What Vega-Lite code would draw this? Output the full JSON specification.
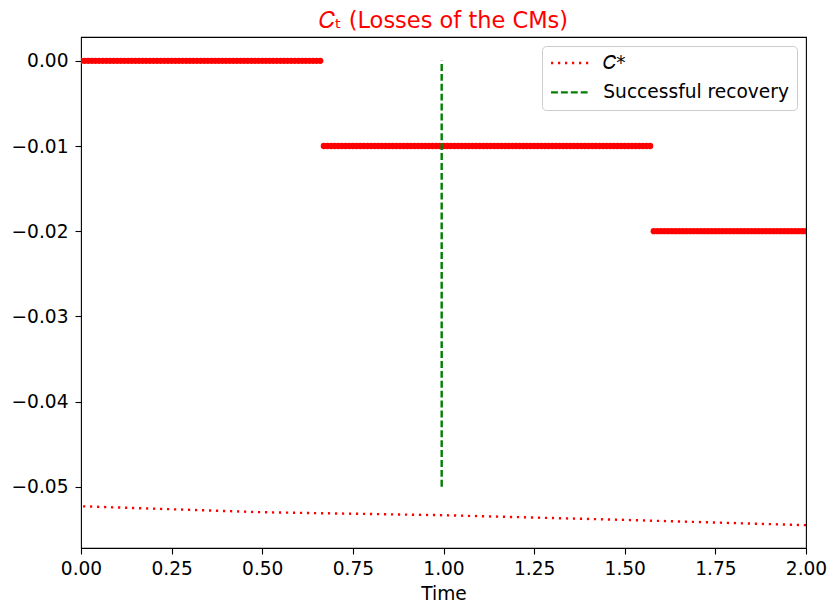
{
  "$schema": "https://vega.github.io/schema/vega-lite/v6.json",
  "width": 725,
  "height": 511,
  "autosize": {"type": "none"},
  "padding": {"left": 81, "top": 37, "right": 23, "bottom": 58},
  "config": {
    "font": "DejaVu Sans",
    "view": {"stroke": "black", "strokeWidth": 1.1},
    "axis": {"labelFontSize": 18.6, "labelColor": "black", "tickColor": "black", "tickSize": 6, "tickWidth": 1.1, "domain": false, "grid": false, "titleFontSize": 18.6, "titleFontWeight": "normal", "titleColor": "black", "labelOverlap": false, "labelFlush": false}
  },
  "title": {"text": "𝐶ₜ (Losses of the CMs)", "color": "#ff0000", "fontSize": 22.5, "fontWeight": "normal", "font": "DejaVu Sans", "anchor": "middle", "offset": 5},
  "datasets": {
    "cm": [
      {"t":0,"c":0},{"t":0.01,"c":0},{"t":0.02,"c":0},{"t":0.03,"c":0},{"t":0.04,"c":0},{"t":0.05,"c":0},{"t":0.06,"c":0},{"t":0.07,"c":0},{"t":0.08,"c":0},{"t":0.09,"c":0},
      {"t":0.1,"c":0},{"t":0.11,"c":0},{"t":0.12,"c":0},{"t":0.13,"c":0},{"t":0.14,"c":0},{"t":0.15,"c":0},{"t":0.16,"c":0},{"t":0.17,"c":0},{"t":0.18,"c":0},{"t":0.19,"c":0},
      {"t":0.2,"c":0},{"t":0.21,"c":0},{"t":0.22,"c":0},{"t":0.23,"c":0},{"t":0.24,"c":0},{"t":0.25,"c":0},{"t":0.26,"c":0},{"t":0.27,"c":0},{"t":0.28,"c":0},{"t":0.29,"c":0},
      {"t":0.3,"c":0},{"t":0.31,"c":0},{"t":0.32,"c":0},{"t":0.33,"c":0},{"t":0.34,"c":0},{"t":0.35,"c":0},{"t":0.36,"c":0},{"t":0.37,"c":0},{"t":0.38,"c":0},{"t":0.39,"c":0},
      {"t":0.4,"c":0},{"t":0.41,"c":0},{"t":0.42,"c":0},{"t":0.43,"c":0},{"t":0.44,"c":0},{"t":0.45,"c":0},{"t":0.46,"c":0},{"t":0.47,"c":0},{"t":0.48,"c":0},{"t":0.49,"c":0},
      {"t":0.5,"c":0},{"t":0.51,"c":0},{"t":0.52,"c":0},{"t":0.53,"c":0},{"t":0.54,"c":0},{"t":0.55,"c":0},{"t":0.56,"c":0},{"t":0.57,"c":0},{"t":0.58,"c":0},{"t":0.59,"c":0},
      {"t":0.6,"c":0},{"t":0.61,"c":0},{"t":0.62,"c":0},{"t":0.63,"c":0},{"t":0.64,"c":0},{"t":0.65,"c":0},{"t":0.66,"c":0},
      {"t":0.67,"c":-0.01},{"t":0.68,"c":-0.01},{"t":0.69,"c":-0.01},
      {"t":0.7,"c":-0.01},{"t":0.71,"c":-0.01},{"t":0.72,"c":-0.01},{"t":0.73,"c":-0.01},{"t":0.74,"c":-0.01},{"t":0.75,"c":-0.01},{"t":0.76,"c":-0.01},{"t":0.77,"c":-0.01},{"t":0.78,"c":-0.01},{"t":0.79,"c":-0.01},
      {"t":0.8,"c":-0.01},{"t":0.81,"c":-0.01},{"t":0.82,"c":-0.01},{"t":0.83,"c":-0.01},{"t":0.84,"c":-0.01},{"t":0.85,"c":-0.01},{"t":0.86,"c":-0.01},{"t":0.87,"c":-0.01},{"t":0.88,"c":-0.01},{"t":0.89,"c":-0.01},
      {"t":0.9,"c":-0.01},{"t":0.91,"c":-0.01},{"t":0.92,"c":-0.01},{"t":0.93,"c":-0.01},{"t":0.94,"c":-0.01},{"t":0.95,"c":-0.01},{"t":0.96,"c":-0.01},{"t":0.97,"c":-0.01},{"t":0.98,"c":-0.01},{"t":0.99,"c":-0.01},
      {"t":1.0,"c":-0.01},{"t":1.01,"c":-0.01},{"t":1.02,"c":-0.01},{"t":1.03,"c":-0.01},{"t":1.04,"c":-0.01},{"t":1.05,"c":-0.01},{"t":1.06,"c":-0.01},{"t":1.07,"c":-0.01},{"t":1.08,"c":-0.01},{"t":1.09,"c":-0.01},
      {"t":1.1,"c":-0.01},{"t":1.11,"c":-0.01},{"t":1.12,"c":-0.01},{"t":1.13,"c":-0.01},{"t":1.14,"c":-0.01},{"t":1.15,"c":-0.01},{"t":1.16,"c":-0.01},{"t":1.17,"c":-0.01},{"t":1.18,"c":-0.01},{"t":1.19,"c":-0.01},
      {"t":1.2,"c":-0.01},{"t":1.21,"c":-0.01},{"t":1.22,"c":-0.01},{"t":1.23,"c":-0.01},{"t":1.24,"c":-0.01},{"t":1.25,"c":-0.01},{"t":1.26,"c":-0.01},{"t":1.27,"c":-0.01},{"t":1.28,"c":-0.01},{"t":1.29,"c":-0.01},
      {"t":1.3,"c":-0.01},{"t":1.31,"c":-0.01},{"t":1.32,"c":-0.01},{"t":1.33,"c":-0.01},{"t":1.34,"c":-0.01},{"t":1.35,"c":-0.01},{"t":1.36,"c":-0.01},{"t":1.37,"c":-0.01},{"t":1.38,"c":-0.01},{"t":1.39,"c":-0.01},
      {"t":1.4,"c":-0.01},{"t":1.41,"c":-0.01},{"t":1.42,"c":-0.01},{"t":1.43,"c":-0.01},{"t":1.44,"c":-0.01},{"t":1.45,"c":-0.01},{"t":1.46,"c":-0.01},{"t":1.47,"c":-0.01},{"t":1.48,"c":-0.01},{"t":1.49,"c":-0.01},
      {"t":1.5,"c":-0.01},{"t":1.51,"c":-0.01},{"t":1.52,"c":-0.01},{"t":1.53,"c":-0.01},{"t":1.54,"c":-0.01},{"t":1.55,"c":-0.01},{"t":1.56,"c":-0.01},{"t":1.57,"c":-0.01},
      {"t":1.58,"c":-0.02},{"t":1.59,"c":-0.02},
      {"t":1.6,"c":-0.02},{"t":1.61,"c":-0.02},{"t":1.62,"c":-0.02},{"t":1.63,"c":-0.02},{"t":1.64,"c":-0.02},{"t":1.65,"c":-0.02},{"t":1.66,"c":-0.02},{"t":1.67,"c":-0.02},{"t":1.68,"c":-0.02},{"t":1.69,"c":-0.02},
      {"t":1.7,"c":-0.02},{"t":1.71,"c":-0.02},{"t":1.72,"c":-0.02},{"t":1.73,"c":-0.02},{"t":1.74,"c":-0.02},{"t":1.75,"c":-0.02},{"t":1.76,"c":-0.02},{"t":1.77,"c":-0.02},{"t":1.78,"c":-0.02},{"t":1.79,"c":-0.02},
      {"t":1.8,"c":-0.02},{"t":1.81,"c":-0.02},{"t":1.82,"c":-0.02},{"t":1.83,"c":-0.02},{"t":1.84,"c":-0.02},{"t":1.85,"c":-0.02},{"t":1.86,"c":-0.02},{"t":1.87,"c":-0.02},{"t":1.88,"c":-0.02},{"t":1.89,"c":-0.02},
      {"t":1.9,"c":-0.02},{"t":1.91,"c":-0.02},{"t":1.92,"c":-0.02},{"t":1.93,"c":-0.02},{"t":1.94,"c":-0.02},{"t":1.95,"c":-0.02},{"t":1.96,"c":-0.02},{"t":1.97,"c":-0.02},{"t":1.98,"c":-0.02},{"t":1.99,"c":-0.02},
      {"t":2.0,"c":-0.02}
    ],
    "lines": [
      {"t":0,"c":-0.0523,"series":"𝐶*"},
      {"t":0.5,"c":-0.0530,"series":"𝐶*"},
      {"t":1.0,"c":-0.05335,"series":"𝐶*"},
      {"t":1.5,"c":-0.0539,"series":"𝐶*"},
      {"t":2.0,"c":-0.05452,"series":"𝐶*"},
      {"t":0.995,"c":0,"series":"Successful recovery"},
      {"t":0.995,"c":-0.05,"series":"Successful recovery"}
    ]
  },
  "encoding": {
    "x": {"field": "t", "type": "quantitative", "scale": {"domain": [0, 2], "nice": false, "zero": false}, "axis": {"title": "Time", "values": [0, 0.25, 0.5, 0.75, 1, 1.25, 1.5, 1.75, 2], "format": ".2f", "labelPadding": 5, "titlePadding": 7}},
    "y": {"field": "c", "type": "quantitative", "scale": {"domain": [-0.0572, 0.0028], "nice": false, "zero": false}, "axis": {"title": null, "values": [0, -0.01, -0.02, -0.03, -0.04, -0.05], "format": ".2f", "labelPadding": 7}}
  },
  "layer": [
    {
      "data": {"name": "cm"},
      "mark": {"type": "circle", "size": 40, "color": "#ff0000", "opacity": 1, "clip": true}
    },
    {
      "data": {"name": "lines"},
      "mark": {"type": "line", "strokeWidth": 2.4},
      "encoding": {
        "color": {"field": "series", "type": "nominal", "scale": {"domain": ["𝐶*", "Successful recovery"], "range": ["#ff0000", "#008000"]}, "legend": {"title": null, "orient": "top-right", "offset": 9, "symbolType": "M-3,0H3", "symbolSize": 160, "symbolOffset": 11, "symbolStrokeWidth": 2.4, "labelFontSize": 18.6, "labelColor": "black", "labelOffset": 24, "labelLimit": 400, "padding": 7.7, "strokeColor": "#cccccc", "fillColor": "rgba(255,255,255,0.8)", "cornerRadius": 4, "rowPadding": 10.4}},
        "strokeDash": {"field": "series", "type": "nominal", "scale": {"domain": ["𝐶*", "Successful recovery"], "range": [[2.2, 4.8], [6.9, 3]]}, "legend": {"title": null}},
        "order": {"field": "c", "type": "quantitative"}
      }
    }
  ]
}
